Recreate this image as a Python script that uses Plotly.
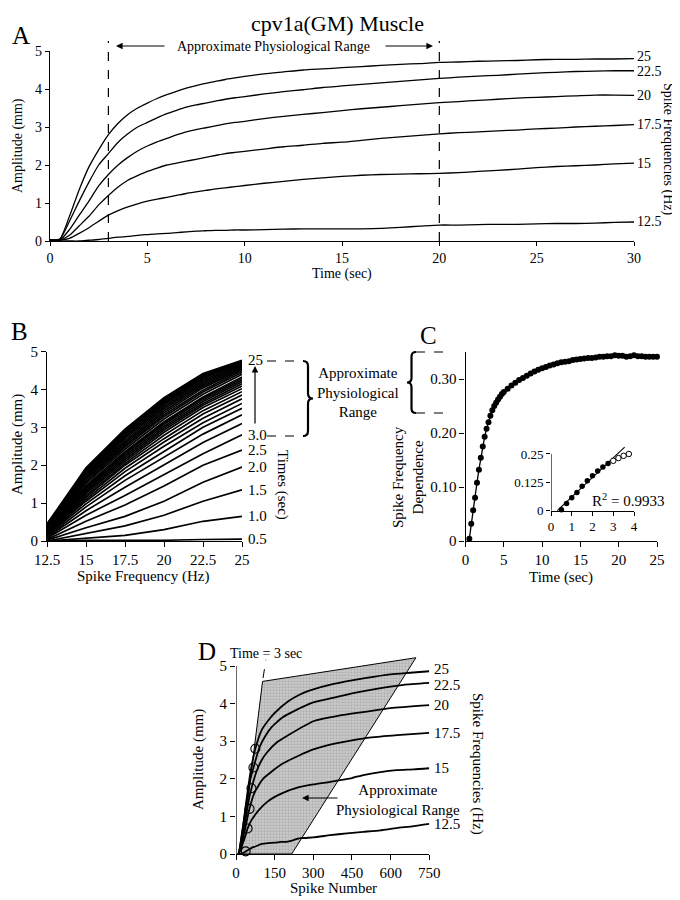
import plotly.graph_objects as go

# The page body adds an 8px margin, so the figure is laid out in screen pixels
# and shifted by OFF to land where the reference puts things.
OFF = 8
W, H = 680 - OFF, 900 - OFF
FONT = "Liberation Serif"

# ---------------- data: panel A (amplitude vs time, per spike frequency) ----------------
freqs = [12.5, 15, 17.5, 20, 22.5, 25]
freq_labels = ["12.5", "15", "17.5", "20", "22.5", "25"]
a_time = [0, 0.5, 1, 1.5, 2, 2.5, 3, 3.5, 4, 4.5, 5, 5.5, 6, 6.5, 7, 7.5, 8, 8.5, 9, 9.5, 10,
          11, 12, 13, 14, 15, 16, 17, 18, 19, 20, 21, 22, 23, 24, 25, 26, 27, 28, 29, 30]
a_amp_12_5 = [0.02, 0.0, 0.0, 0.0, 0.02, 0.04, 0.07, 0.1, 0.12, 0.15,
              0.17, 0.19, 0.2, 0.22, 0.24, 0.26, 0.27, 0.28, 0.28, 0.29, 0.29,
              0.3, 0.31, 0.32, 0.32, 0.32, 0.32, 0.33, 0.36, 0.39, 0.42, 0.42, 0.43, 0.44, 0.44, 0.45,
              0.46, 0.46, 0.47, 0.49, 0.5]
a_amp_15 = [0.02, 0.02, 0.07, 0.2, 0.35, 0.52, 0.68, 0.8, 0.9, 0.98,
            1.05, 1.1, 1.15, 1.2, 1.25, 1.29, 1.33, 1.37, 1.4, 1.43, 1.46,
            1.52, 1.57, 1.62, 1.66, 1.7, 1.73, 1.75, 1.76, 1.77, 1.78, 1.8, 1.83, 1.86, 1.89, 1.93,
            1.96, 1.98, 2.0, 2.03, 2.05]
a_amp_17_5 = [0.02, 0.02, 0.15, 0.4, 0.65, 0.95, 1.2, 1.42, 1.6, 1.72,
              1.83, 1.92, 2.0, 2.05, 2.1, 2.15, 2.2, 2.25, 2.3, 2.33, 2.36,
              2.42, 2.48, 2.52, 2.57, 2.6, 2.65, 2.7, 2.74, 2.78, 2.82, 2.85, 2.87, 2.9, 2.92, 2.95,
              2.97, 3.0, 3.02, 3.04, 3.06]
a_amp_20 = [0.02, 0.02, 0.3, 0.68, 1.05, 1.45, 1.75, 2.0, 2.2, 2.37,
            2.5, 2.61, 2.7, 2.79, 2.87, 2.93, 2.98, 3.03, 3.08, 3.12, 3.15,
            3.22, 3.28, 3.33, 3.38, 3.43, 3.48, 3.52, 3.56, 3.6, 3.64, 3.67, 3.7, 3.73, 3.76, 3.78,
            3.8, 3.82, 3.84, 3.84, 3.83]
a_amp_22_5 = [0.03, 0.04, 0.52, 1.05, 1.55, 2.0, 2.3, 2.6, 2.82, 3.0,
              3.12, 3.24, 3.35, 3.44, 3.52, 3.58, 3.63, 3.68, 3.73, 3.77, 3.8,
              3.87, 3.93, 3.98, 4.04, 4.08, 4.12, 4.16, 4.2, 4.24, 4.28, 4.31, 4.34, 4.36, 4.39, 4.42,
              4.44, 4.46, 4.47, 4.48, 4.48]
a_amp_25 = [0.03, 0.05, 0.65, 1.35, 1.95, 2.4, 2.8, 3.1, 3.33, 3.5,
            3.63, 3.75, 3.85, 3.94, 4.02, 4.09, 4.15, 4.2, 4.25, 4.29, 4.33,
            4.4, 4.45, 4.5, 4.53, 4.56, 4.59, 4.62, 4.65, 4.67, 4.7, 4.71, 4.73, 4.74, 4.75, 4.77,
            4.78, 4.78, 4.79, 4.79, 4.8]
a_series = [a_amp_12_5, a_amp_15, a_amp_17_5, a_amp_20, a_amp_22_5, a_amp_25]
range_start, range_end = 3, 20          # approximate physiological range (sec)

# ---------------- panel B: labelled times ----------------
b_max_time = 25
b_label_times = [0.5, 1.0, 1.5, 2.0, 2.5, 3.0, 25]
b_label_text = ["0.5", "1.0", "1.5", "2.0", "2.5", "3.0", "25"]

# ---------------- data: panel C (spike frequency dependence vs time) ----------------
c_time = [0.5, 0.75, 1.0, 1.25, 1.5, 1.75, 2.0, 2.25, 2.5, 2.75, 3.0, 3.25, 3.5, 3.75, 4.0, 4.25,
          4.5, 4.75, 5.0, 5.5, 6.0, 6.5, 7.0, 7.5, 8.0, 8.5, 9.0, 9.5, 10.0, 10.5, 11.0, 11.5,
          12.0, 12.5, 13.0, 13.5, 14.0, 14.5, 15.0, 15.5, 16.0, 16.5, 17.0, 17.5, 18.0, 18.5,
          19.0, 19.5, 20.0, 20.5, 21.0, 21.5, 22.0, 22.5, 23.0, 23.5, 24.0, 24.5, 25.0]
c_value = [0.004, 0.032, 0.057, 0.08, 0.108, 0.132, 0.154, 0.175, 0.193, 0.208, 0.22, 0.232,
           0.242, 0.25, 0.256, 0.262, 0.267, 0.272, 0.276, 0.282, 0.288, 0.293, 0.298, 0.302,
           0.306, 0.31, 0.314, 0.317, 0.32, 0.322, 0.325, 0.327, 0.329, 0.331, 0.332, 0.333,
           0.335, 0.336, 0.337, 0.338, 0.339, 0.339, 0.34, 0.341, 0.341, 0.342, 0.342, 0.344,
           0.343, 0.343, 0.341, 0.342, 0.344, 0.342, 0.342, 0.341, 0.341, 0.341, 0.341]
inset_fit_end = 2.75      # last point used for the linear fit
inset_max_time = 3.75
fit_time = [0.3, 3.55]
fit_value = [0.0, 0.28]
r_squared = "0.9933"

# ---------------- data: panel D (amplitude vs spike number) ----------------
d_x_12_5 = [6, 12, 19, 25, 31, 38, 50, 62, 75, 100, 125, 150, 175, 200, 250, 300, 365, 430, 494,
            560, 623, 690, 750]
d_y_12_5 = [0, 0, 0, 0.02, 0.04, 0.07, 0.12, 0.17, 0.2, 0.27, 0.29, 0.3, 0.32, 0.33, 0.42, 0.44,
            0.5, 0.55, 0.59, 0.63, 0.69, 0.74, 0.8]
d_x_15 = [8, 15, 22, 30, 38, 45, 60, 75, 90, 120, 150, 180, 235, 300, 365, 450, 494, 560, 623, 690, 750]
d_y_15 = [0, 0.07, 0.2, 0.35, 0.52, 0.68, 0.9, 1.05, 1.18, 1.38, 1.52, 1.62, 1.76, 1.85, 1.92, 2.02,
          2.1, 2.18, 2.23, 2.25, 2.28]
d_x_17_5 = [9, 17, 26, 35, 44, 52, 70, 88, 105, 140, 175, 245, 300, 350, 450, 525, 625, 750]
d_y_17_5 = [0, 0.15, 0.4, 0.65, 0.95, 1.2, 1.6, 1.83, 2.0, 2.2, 2.38, 2.62, 2.78, 2.88, 3.02, 3.1,
            3.16, 3.22]
d_x_20 = [10, 20, 30, 40, 50, 60, 80, 100, 120, 160, 200, 300, 400, 500, 600, 750]
d_y_20 = [0, 0.3, 0.68, 1.05, 1.45, 1.75, 2.2, 2.5, 2.7, 2.98, 3.15, 3.53, 3.68, 3.78, 3.88, 3.96]
d_x_22_5 = [11, 22, 34, 45, 56, 68, 90, 112, 135, 180, 225, 300, 375, 450, 550, 650, 750]
d_y_22_5 = [0, 0.5, 1.05, 1.55, 2.0, 2.3, 2.82, 3.12, 3.35, 3.63, 3.8, 4.03, 4.15, 4.27, 4.4, 4.5, 4.55]
d_x_25 = [12, 25, 38, 50, 62, 75, 100, 125, 150, 200, 250, 300, 375, 450, 500, 600, 675, 750]
d_y_25 = [0, 0.6, 1.3, 1.9, 2.4, 2.8, 3.3, 3.55, 3.75, 4.05, 4.25, 4.38, 4.52, 4.62, 4.68, 4.78,
          4.82, 4.86]
d_xs = [d_x_12_5, d_x_15, d_x_17_5, d_x_20, d_x_22_5, d_x_25]
d_ys = [d_y_12_5, d_y_15, d_y_17_5, d_y_20, d_y_22_5, d_y_25]
marker_time = 3
d_region_x = [20, 103, 698, 216]
d_region_y = [0, 4.59, 5.22, 0]
d_guide_x = [105, 116]
d_guide_y = [4.68, 5.17]

# ---------------- helpers (layout given in screen pixels) ----------------
def xp(px):
    return (px - OFF) / W

def yp(py):
    return 1 - (py - OFF) / H

BLACK = "black"
LW = 1.3

def axis(px0, px1, rng, **kw):
    d = dict(domain=[xp(px0), xp(px1)], range=rng, showline=True, linecolor=BLACK, linewidth=1.2,
             ticks="outside", ticklen=5, tickwidth=1, tickcolor=BLACK, showgrid=False,
             zeroline=False, tickfont=dict(family=FONT, size=15, color=BLACK), fixedrange=True,
             automargin=False)
    d.update(kw)
    return d

def yaxis(py_bottom, py_top, rng, **kw):
    d = dict(domain=[yp(py_bottom), yp(py_top)], range=rng, showline=True, linecolor=BLACK,
             linewidth=1.2, ticks="outside", ticklen=5, tickwidth=1, tickcolor=BLACK,
             showgrid=False, zeroline=False, tickfont=dict(family=FONT, size=15, color=BLACK),
             fixedrange=True, automargin=False)
    d.update(kw)
    return d

annotations = []
shapes = []

def text(px, py, s, size=15, angle=0, xanchor="center", yanchor="middle"):
    annotations.append(dict(x=xp(px), y=yp(py), xref="paper", yref="paper", text=s,
                            showarrow=False, textangle=angle, xanchor=xanchor, yanchor=yanchor,
                            font=dict(family=FONT, size=size, color=BLACK)))

def arrow(head_px, head_py, tail_px, tail_py):
    annotations.append(dict(x=xp(head_px), y=yp(head_py), xref="paper", yref="paper",
                            ax=tail_px - head_px, ay=tail_py - head_py, text="", showarrow=True,
                            arrowhead=2, arrowsize=1.1, arrowwidth=1.2, arrowcolor=BLACK,
                            font=dict(family=FONT, size=12, color=BLACK)))

def pline(x0, y0, x1, y1, dash="dash", width=1.2):
    shapes.append(dict(type="line", xref="paper", yref="paper", x0=xp(x0), y0=yp(y0),
                       x1=xp(x1), y1=yp(y1), line=dict(color=BLACK, width=width, dash=dash)))

def brace(x_base, y_top, y_bot, depth, direction, width=2.2):
    xm = x_base + direction * depth * 0.5
    xt = x_base + direction * depth
    ym = (y_top + y_bot) / 2
    r = depth * 0.5
    P = lambda x, y: f"{xp(x):.5f},{yp(y):.5f}"
    path = (f"M {P(x_base, y_top)} Q {P(xm, y_top)} {P(xm, y_top + r)} L {P(xm, ym - r)} "
            f"Q {P(xm, ym)} {P(xt, ym)} Q {P(xm, ym)} {P(xm, ym + r)} L {P(xm, y_bot - r)} "
            f"Q {P(xm, y_bot)} {P(x_base, y_bot)}")
    shapes.append(dict(type="path", xref="paper", yref="paper", path=path,
                       line=dict(color=BLACK, width=width)))

# pixel geometry of each panel (screen pixels)
A_X0, A_X1, A_Y0, A_Y1 = 50, 634, 241, 51
B_X0, B_X1, B_Y0, B_Y1 = 47, 242, 541, 351.5
C_X0, C_X1, C_Y0, C_Y1 = 465.5, 657, 541, 352
I_X0, I_X1, I_Y0 = 551, 634, 510.7
I_SC = (510.7 - 454) / 0.25
I_TOP = 0.29
D_X0, D_X1, D_Y0 = 236, 429.3, 854
D_SC = (854 - 666) / 5.0
D_TOP = 5.35

fig = go.Figure()

# ---------------- Panel A ----------------
a_label_shift = {"25": 2, "22.5": -1}
for f, lab, ys in zip(freqs, freq_labels, a_series):
    fig.add_trace(go.Scatter(x=a_time, y=ys, mode="lines", line=dict(color=BLACK, width=LW,
                  shape="spline", smoothing=0.6), xaxis="x", yaxis="y", showlegend=False,
                  hoverinfo="skip"))
    annotations.append(dict(x=a_time[-1], y=ys[-1], xref="x", yref="y", text=lab,
                            showarrow=False, xanchor="left", yanchor="middle", xshift=1,
                            yshift=a_label_shift.get(lab, 0),
                            font=dict(family=FONT, size=14, color=BLACK)))

a_scale = (A_X1 - A_X0) / 30.0
for t in (range_start, range_end):
    pline(A_X0 + t * a_scale, A_Y0, A_X0 + t * a_scale, 41)

# ---------------- Panel B ----------------
for i, t in enumerate(a_time):
    if 0 < t <= b_max_time:
        ys = [s[i] for s in a_series]
        fig.add_trace(go.Scatter(x=freqs, y=ys, mode="lines", line=dict(color=BLACK, width=1.7),
                                 xaxis="x2", yaxis="y2", showlegend=False, hoverinfo="skip"))
for t, lab in zip(b_label_times, b_label_text):
    i = a_time.index(t)
    annotations.append(dict(x=freqs[-1], y=a_amp_25[i], xref="x2", yref="y2", text=lab,
                            showarrow=False, xanchor="left", yanchor="middle", xshift=4,
                            font=dict(family=FONT, size=15, color=BLACK)))

# ---------------- Panel C ----------------
fig.add_trace(go.Scatter(x=c_time, y=c_value, mode="lines+markers",
                         line=dict(color=BLACK, width=LW), marker=dict(color=BLACK, size=6),
                         xaxis="x3", yaxis="y3", showlegend=False, cliponaxis=False,
                         hoverinfo="skip"))
# inset
fit_pts = [(t, v) for t, v in zip(c_time, c_value) if t <= inset_fit_end]
out_pts = [(t, v) for t, v in zip(c_time, c_value) if inset_fit_end < t <= inset_max_time]
fig.add_trace(go.Scatter(x=fit_time, y=fit_value, mode="lines", line=dict(color=BLACK, width=1.1),
                         xaxis="x4", yaxis="y4", showlegend=False, hoverinfo="skip"))
fig.add_trace(go.Scatter(x=[p[0] for p in fit_pts], y=[p[1] for p in fit_pts], mode="markers",
                         marker=dict(color=BLACK, size=5.5), xaxis="x4", yaxis="y4",
                         showlegend=False, cliponaxis=False, hoverinfo="skip"))
fig.add_trace(go.Scatter(x=[p[0] for p in out_pts], y=[p[1] for p in out_pts], mode="markers",
                         marker=dict(color="white", size=5.5, line=dict(color=BLACK, width=1)),
                         xaxis="x4", yaxis="y4", showlegend=False, cliponaxis=False,
                         hoverinfo="skip"))
shapes.append(dict(type="line", xref="x4", yref="y4", x0=0, y0=0, x1=0, y1=0.25,
                   line=dict(color=BLACK, width=1.2)))

# ---------------- Panel D ----------------
fig.add_trace(go.Scatter(x=d_region_x + d_region_x[:1], y=d_region_y + d_region_y[:1],
                         mode="lines", fill="toself", fillcolor="#c2c2c2",
                         fillpattern=dict(shape=".", bgcolor="#d2d2d2", fgcolor="#8e8e8e",
                                          size=3, solidity=0.55),
                         line=dict(color=BLACK, width=1), xaxis="x5", yaxis="y5",
                         showlegend=False, hoverinfo="skip"))
d_label_shift = {"25": 2, "22.5": -2}
for lab, xs, ys in zip(freq_labels, d_xs, d_ys):
    fig.add_trace(go.Scatter(x=xs, y=ys, mode="lines", line=dict(color=BLACK, width=1.8,
                  shape="spline", smoothing=0.5), xaxis="x5", yaxis="y5", showlegend=False,
                  hoverinfo="skip"))
    annotations.append(dict(x=xs[-1], y=ys[-1], xref="x5", yref="y5", text=lab,
                            showarrow=False, xanchor="left", yanchor="middle", xshift=3,
                            yshift=d_label_shift.get(lab, 0),
                            font=dict(family=FONT, size=15, color=BLACK)))
mi = a_time.index(marker_time)
fig.add_trace(go.Scatter(x=[f * marker_time for f in freqs], y=[s[mi] for s in a_series],
                         mode="markers", marker=dict(color="rgba(0,0,0,0)", size=9,
                         line=dict(color=BLACK, width=1.1)), xaxis="x5", yaxis="y5",
                         showlegend=False, cliponaxis=False, hoverinfo="skip"))
shapes.append(dict(type="line", xref="x5", yref="y5", x0=0, y0=0, x1=0, y1=5,
                   line=dict(color=BLACK, width=1.2)))
shapes.append(dict(type="line", xref="x5", yref="y5", x0=d_guide_x[0], y0=d_guide_y[0],
                   x1=d_guide_x[1], y1=d_guide_y[1], line=dict(color=BLACK, width=1, dash="dash")))

# ---------------- texts ----------------
text(337, 23.5, "cpv1a(GM) Muscle", size=22)
text(21, 35, "A", size=25)
text(273, 46, "Approximate Physiological Range", size=14)
arrow(116, 46, 166, 46)
arrow(433, 46, 384, 46)
text(342, 274, "Time (sec)", size=14)
text(18, 146, "Amplitude (mm)", size=14, angle=-90)
text(668, 149, "Spike Frequencies (Hz)", size=14, angle=90)

text(19, 332, "B", size=25)
text(17, 445, "Amplitude (mm)", size=15, angle=-90)
text(143, 576, "Spike Frequency (Hz)", size=15)
text(358, 392, "Approximate<br>Physiological<br>Range", size=15)
text(283, 485, "Times (sec)", size=15, angle=90)
arrow(255, 366, 255, 425)
pline(267, 361, 302, 361)
pline(267, 436, 302, 436)
brace(303, 361, 436, 10, +1)

text(428, 335, "C", size=25)
text(408, 477, "Spike Frequency<br>Dependence", size=15, angle=-90)
text(561, 577, "Time (sec)", size=15)
text(628, 500, "R<sup>2</sup> = " + r_squared, size=15)
pline(416, 352, 450, 352)
pline(416, 413, 450, 413)
brace(416, 352, 413, 9, -1)

text(207, 651, "D", size=25)
text(266, 653, "Time = 3 sec", size=14)
text(198, 760, "Amplitude (mm)", size=15, angle=-90)
text(333, 888, "Spike Number", size=15)
text(478, 764, "Spike Frequencies (Hz)", size=15, angle=90)
text(398, 800, "Approximate<br>Physiological Range", size=15)
arrow(302, 798, 339, 798)

# ---------------- layout ----------------
tick5 = [0, 1, 2, 3, 4, 5]
fig.update_layout(
    width=W, height=H, autosize=False,
    margin=dict(l=0, r=0, t=0, b=0, pad=0, autoexpand=False),
    paper_bgcolor="white", plot_bgcolor="rgba(0,0,0,0)", showlegend=False,
    xaxis=axis(A_X0, A_X1, [0, 30], anchor="y", tickvals=[0, 5, 10, 15, 20, 25, 30],
               tickfont=dict(family=FONT, size=14, color=BLACK), ticklen=4),
    yaxis=yaxis(A_Y0, A_Y1, [0, 5], anchor="x", tickvals=tick5,
                tickfont=dict(family=FONT, size=14, color=BLACK), ticklen=4),
    xaxis2=axis(B_X0, B_X1, [12.5, 25], anchor="y2", tickvals=freqs, ticktext=freq_labels),
    yaxis2=yaxis(B_Y0, B_Y1, [0, 5], anchor="x2", tickvals=tick5),
    xaxis3=axis(C_X0, C_X1, [0, 25], anchor="y3", tickvals=[0, 5, 10, 15, 20, 25]),
    yaxis3=yaxis(C_Y0, C_Y1, [0, 0.35], anchor="x3", tickvals=[0, 0.1, 0.2, 0.3],
                 ticktext=["0", "0.10", "0.20", "0.30"]),
    xaxis4=axis(I_X0, I_X1, [0, 4], anchor="y4", tickvals=[0, 1, 2, 3, 4], ticklen=4,
                tickfont=dict(family=FONT, size=13, color=BLACK)),
    yaxis4=yaxis(I_Y0, I_Y0 - I_TOP * I_SC, [0, I_TOP], anchor="x4", showline=False,
                 tickvals=[0, 0.125, 0.25], ticktext=["0", "0.125", "0.25"], ticklen=4,
                 tickfont=dict(family=FONT, size=13, color=BLACK)),
    xaxis5=axis(D_X0, D_X1, [0, 750], anchor="y5", tickvals=[0, 150, 300, 450, 600, 750]),
    yaxis5=yaxis(D_Y0, D_Y0 - D_TOP * D_SC, [0, D_TOP], anchor="x5", showline=False,
                 tickvals=tick5),
    annotations=annotations, shapes=shapes,
)

fig.write_html("out.html", config={"displayModeBar": False})
